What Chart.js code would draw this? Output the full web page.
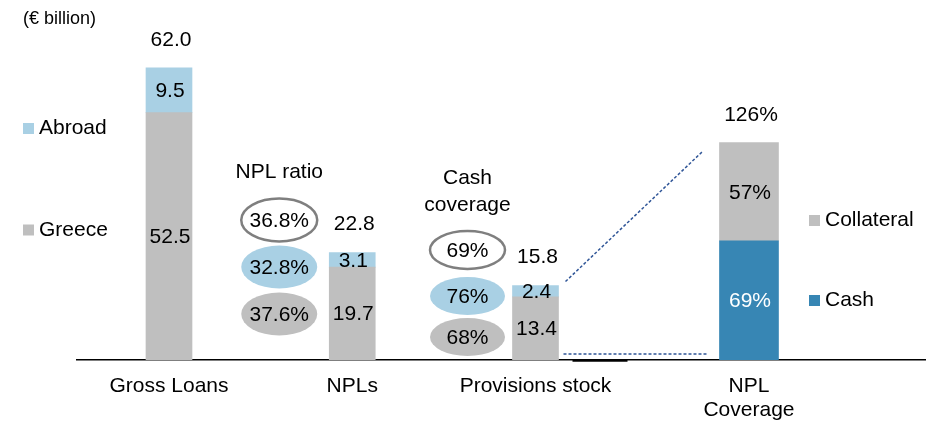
<!DOCTYPE html>
<html lang="en">
<head>
<meta charset="UTF-8">
<title>Gross loans, NPLs and coverage</title>
<script src="https://cdn.jsdelivr.net/npm/chart.js"></script>
<style>
  html, body { margin: 0; padding: 0; background: #fff; }
</style>
</head>
<body>
<canvas id="chart" width="926" height="425"></canvas>
<script>
// bars (€ billion)
const categories = ['Gross Loans', 'NPLs', 'Provisions stock', ['NPL', 'Coverage']];
const greece = [52.5, 19.7, 13.4];
const abroad = [9.5, 3.1, 2.4];
const totals = [62.0, 22.8, 15.8];
// NPL coverage (%)
const cash = [69];
const collateral = [57];
const coverageTotal = [126];
// ovals: group / abroad / greece
const nplRatio = [36.8, 32.8, 37.6];
const cashCoverage = [69, 76, 68];

// where the four columns sit on the linear x axis
const xPos = [1, 2, 3, 4.165];

const GREY = '#BFBFBF';
const LIGHT = '#A9D0E4';
const DARK = '#3786B4';
const DASH = '#2F5597';
const FONT = '"Liberation Sans", Arial, sans-serif';

Chart.defaults.font.family = FONT;
Chart.defaults.font.size = 21;
Chart.defaults.color = '#000';

function put(ctx, str, x, y, size, color, align) {
    ctx.font = size + 'px ' + FONT;
    ctx.fillStyle = color || '#000';
    ctx.textAlign = align || 'center';
    ctx.textBaseline = 'middle';
    ctx.fillText(str, x, y);
}

function oval(ctx, cx, cy, rx, ry, fill, stroke) {
    ctx.beginPath();
    ctx.ellipse(cx, cy, rx, ry, 0, 0, Math.PI * 2);
    ctx.fillStyle = fill;
    ctx.fill();
    if (stroke) {
        ctx.lineWidth = 2.5;
        ctx.strokeStyle = stroke;
        ctx.stroke();
    }
}

const overlay = {
    id: 'overlay',
    afterDraw(chart) {
        const { ctx, chartArea } = chart;
        const base = chartArea.bottom;
        const metas = chart.data.datasets.map((d, i) => chart.getDatasetMeta(i));
        ctx.save();

        // segment values
        metas.forEach((meta, di) => {
            const ds = chart.data.datasets[di];
            meta.data.forEach((bar, i) => {
                const v = ds.data[i].y;
                const txt = ds.yAxisID === 'y2' ? v + '%' : v.toFixed(1);
                put(ctx, txt, bar.x + 1, (bar.y + bar.base) / 2 + 1, 21, ds.labelColor);
            });
        });

        // totals above stacks
        metas[1].data.forEach((bar, i) => put(ctx, totals[i].toFixed(1), bar.x + 2, bar.y - 28, 21));
        metas[3].data.forEach((bar, i) => put(ctx, coverageTotal[i] + '%', bar.x + 2, bar.y - 27, 21));

        // ovals
        const xs = chart.scales.x;
        const fills = [['#fff', '#7F7F7F'], [LIGHT], [GREY]];
        const nplX = xs.getPixelForValue(xPos[1]) - 73;
        const covX = xs.getPixelForValue(xPos[2]) - 68;
        [140, 93, 46].forEach((dy, i) => {
            oval(ctx, nplX, base - dy, 38, 21.5, fills[i][0], fills[i][1]);
            put(ctx, nplRatio[i].toFixed(1) + '%', nplX, base - dy + 1, 21);
        });
        [110, 64, 23].forEach((dy, i) => {
            oval(ctx, covX, base - dy, 37.5, 19, fills[i][0], fills[i][1]);
            put(ctx, cashCoverage[i] + '%', covX, base - dy + 1, 21);
        });
        put(ctx, 'NPL ratio', nplX, base - 188, 21);
        put(ctx, 'Cash', covX, base - 182, 21);
        put(ctx, 'coverage', covX, base - 155, 21);

        // dashed connectors
        const prov = metas[1].data[2];
        const cov = metas[3].data[0];
        const provRight = prov.x + prov.width / 2;
        const covLeft = cov.x - cov.width / 2;
        ctx.strokeStyle = DASH;
        ctx.lineWidth = 1.5;
        ctx.setLineDash([3, 2]);
        ctx.beginPath();
        ctx.moveTo(provRight + 7, prov.y - 4);
        ctx.lineTo(covLeft - 17, cov.y + 9);
        ctx.moveTo(provRight + 5, base - 6);
        ctx.lineTo(covLeft - 13, base - 6);
        ctx.stroke();
        ctx.setLineDash([]);

        // thicker piece of the axis
        ctx.strokeStyle = '#000';
        ctx.lineWidth = 2.5;
        ctx.beginPath();
        ctx.moveTo(provRight + 14, base + 0.5);
        ctx.lineTo(provRight + 69, base + 0.5);
        ctx.stroke();

        // unit
        put(ctx, '(€ billion)', 23, 19, 18, '#000', 'left');

        // legends
        const keys = [
            ['Abroad', LIGHT, 23, 128.5],
            ['Greece', GREY, 23, 230],
            ['Collateral', GREY, 809, 220.5],
            ['Cash', DARK, 809, 300.5]
        ];
        keys.forEach(([name, col, lx, ly]) => {
            ctx.fillStyle = col;
            ctx.fillRect(lx, ly - 5.5, 11, 11);
            put(ctx, name, lx + 16, ly, 21, '#000', 'left');
        });

        ctx.restore();
    }
};

const pts = (vals, at) => vals.map((v, i) => ({ x: xPos[at + i], y: v }));

new Chart(document.getElementById('chart'), {
    type: 'bar',
    data: {
        datasets: [
            { label: 'Greece', data: pts(greece, 0), backgroundColor: GREY, yAxisID: 'y', stack: 'a', barThickness: 46, labelColor: '#000' },
            { label: 'Abroad', data: pts(abroad, 0), backgroundColor: LIGHT, yAxisID: 'y', stack: 'a', barThickness: 46, labelColor: '#000' },
            { label: 'Cash', data: pts(cash, 3), backgroundColor: DARK, yAxisID: 'y2', stack: 'a', barThickness: 59, labelColor: '#fff' },
            { label: 'Collateral', data: pts(collateral, 3), backgroundColor: GREY, yAxisID: 'y2', stack: 'a', barThickness: 59, labelColor: '#000' }
        ]
    },
    options: {
        responsive: false,
        animation: false,
        devicePixelRatio: 1,
        layout: { padding: { top: 20.7, left: 77, right: 1, bottom: 0 } },
        plugins: { legend: { display: false }, tooltip: { enabled: false } },
        scales: {
            x: {
                type: 'linear',
                min: 0.498,
                max: 5.1255,
                offset: false,
                z: 1,
                grid: { display: false, drawTicks: false },
                border: { display: true, color: '#000', width: 1.5 },
                afterBuildTicks: (s) => { s.ticks = xPos.map((v) => ({ value: v })); },
                afterFit: (s) => { s.height = 65; },
                ticks: {
                    padding: 14,
                    autoSkip: false,
                    maxRotation: 0,
                    minRotation: 0,
                    color: '#000',
                    font: { size: 21, lineHeight: 1.15 },
                    callback: (v, i) => categories[i]
                }
            },
            y: { display: false, stacked: true, min: 0, max: 72 },
            y2: { display: false, stacked: true, min: 0, max: 196.6 }
        }
    },
    plugins: [overlay]
});
</script>
</body>
</html>
